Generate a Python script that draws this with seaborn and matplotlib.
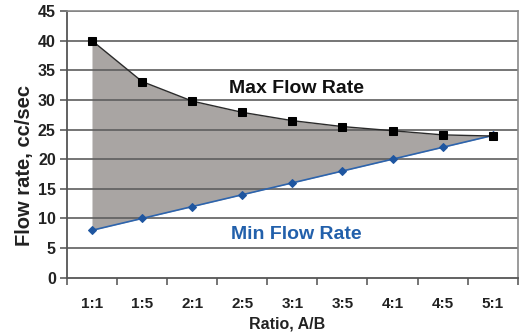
import matplotlib
matplotlib.use("Agg")
import matplotlib.pyplot as plt
import seaborn as sns
import pandas as pd
import numpy as np

ratios = ["1:1", "1:5", "2:1", "2:5", "3:1", "3:5", "4:1", "4:5", "5:1"]
max_flow = [40, 33.1, 29.8, 27.9, 26.5, 25.5, 24.8, 24.1, 23.9]
min_flow = [8, 10, 12, 14, 16, 18, 20, 22, 24]
y_ticks = [0, 5, 10, 15, 20, 25, 30, 35, 40, 45]

sns.set_theme(style="white")
plt.rcParams['font.family'] = ['Liberation Sans', 'DejaVu Sans']

df = pd.DataFrame({"ratio": ratios, "max": max_flow, "min": min_flow})
df["pos"] = np.arange(len(ratios))

fig = plt.figure(figsize=(5.23, 3.33), dpi=100)
ax = fig.add_axes([0.128, 0.166, 0.862, 0.801])

grid_c = "#5e5e5e"
for v in y_ticks[1:]:
    ax.axhline(v, color=grid_c, lw=1.2, zorder=1)

ax.fill_between(df["pos"], df["min"], df["max"], color="#a9a5a3", zorder=0.5, lw=0)

sns.lineplot(data=df, x="pos", y="min", ax=ax, color="#2d64ad", lw=1.2,
             marker="D", markersize=4.5, markeredgecolor="#1f56a0",
             markerfacecolor="#1f56a0", zorder=3)
sns.lineplot(data=df, x="pos", y="max", ax=ax, color="#2b2b2b", lw=1.0,
             marker="s", markersize=6, markeredgecolor="black",
             markerfacecolor="black", zorder=3.5)

ax.set_xlim(-0.5, len(ratios) - 0.5)
ax.set_ylim(0, 45)
ax.set_yticks(y_ticks)
ax.set_yticklabels([str(v) for v in y_ticks], fontsize=11.5, fontweight="bold",
                   color="#222222")
ax.set_xticks(df["pos"])
ax.set_xticklabels(ratios, fontsize=11, fontweight="bold", color="#222222")
ax.set_xticks(np.arange(-0.5, len(ratios) - 0.4, 1.0), minor=True)
ax.tick_params(axis="x", which="major", length=0, pad=14)
ax.tick_params(axis="x", which="minor", length=5, width=1.2, color=grid_c,
               direction="out", bottom=True)
ax.tick_params(axis="y", which="major", length=5, width=1.2, color=grid_c,
               direction="out", left=True, pad=3)

for s in ["left", "bottom"]:
    ax.spines[s].set_color("#555555")
    ax.spines[s].set_linewidth(1.3)
for s in ["right", "top"]:
    ax.spines[s].set_visible(True)
    ax.spines[s].set_color("#8a8a8a")
    ax.spines[s].set_linewidth(1.2)

ax.set_xlabel("Ratio, A/B", fontsize=11.5, fontweight="bold", color="#222222")
ax.xaxis.set_label_coords(0.488, -0.145)
ax.xaxis.label.set_va("top")
ax.set_ylabel("Flow rate, cc/sec", fontsize=14.5, fontweight="bold",
              color="#222222")
ax.yaxis.set_label_coords(-0.074, 0.42)

ax.text(4.08, 31.9, "Max Flow Rate", fontsize=14, fontweight="bold",
        color="#111111", ha="center", va="center", zorder=4)
ax.text(4.08, 7.3, "Min Flow Rate", fontsize=14, fontweight="bold",
        color="#2260ab", ha="center", va="center", zorder=4)

fig.savefig("out.png", dpi=100)
